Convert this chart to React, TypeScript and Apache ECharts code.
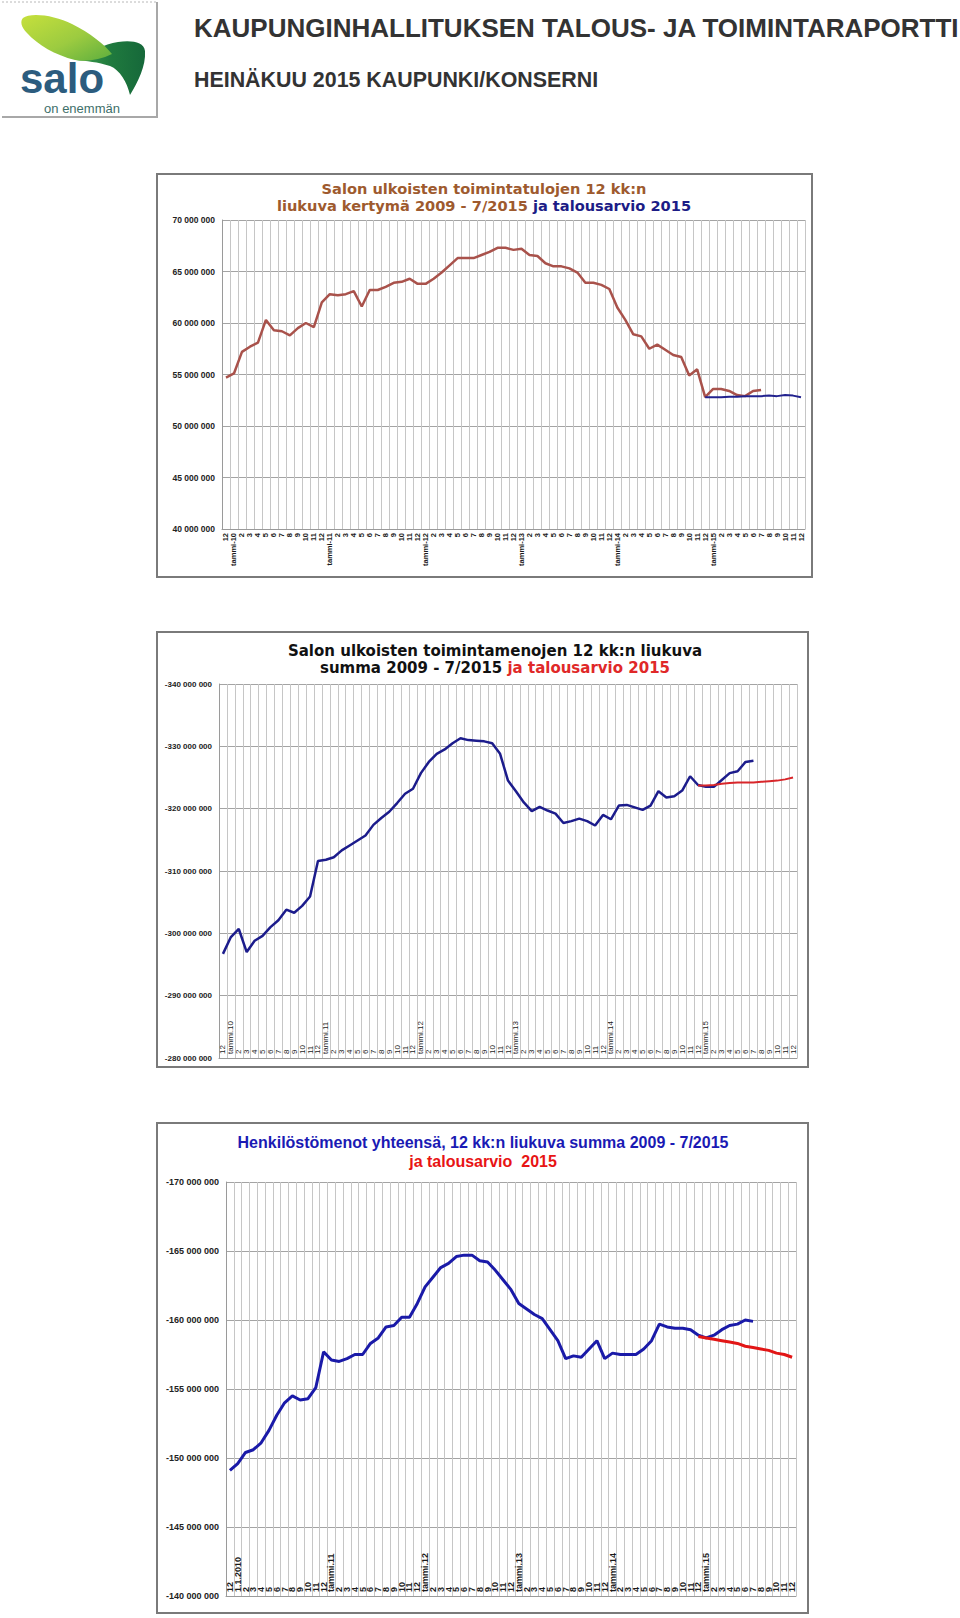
import React, { useEffect, useRef } from 'react';
import * as echarts from 'echarts';

// ---------- categories / tick labels ----------
const firstLabel = '12';
const monthLabels = ['2', '3', '4', '5', '6', '7', '8', '9', '10', '11', '12'];
const yearLabels1 = ['tammi-10', 'tammi-11', 'tammi-12', 'tammi-13', 'tammi-14', 'tammi-15'];
const yearLabels2 = ['tammi.10', 'tammi.11', 'tammi.12', 'tammi.13', 'tammi.14', 'tammi.15'];
const yearLabels3 = ['1.1.2010', 'tammi.11', 'tammi.12', 'tammi.13', 'tammi.14', 'tammi.15'];

// ---------- series values (millions of euros) ----------
// Chart 1: external operating income, 12-month rolling, 12/2009 - 7/2015
const income = [
  54.7, 55.1, 57.2, 57.7, 58.1, 60.3, 59.3, 59.2, 58.8, 59.5, 60.0, 59.6,
  62.0, 62.8, 62.7, 62.8, 63.1, 61.6, 63.2, 63.2, 63.5, 63.9, 64.0, 64.3,
  63.8, 63.8, 64.3, 64.9, 65.6, 66.3, 66.3, 66.3, 66.6, 66.9, 67.3, 67.3,
  67.1, 67.2, 66.6, 66.5, 65.8, 65.5, 65.5, 65.3, 64.9, 63.9, 63.9, 63.7,
  63.3, 61.5, 60.3, 58.9, 58.7, 57.5, 57.9, 57.4, 56.9, 56.7, 54.9, 55.5,
  52.8, 53.6, 53.6, 53.4, 53.0, 52.9, 53.4, 53.5,
];
// budget 12/2014 - 12/2015
const incomeBudget = [52.8, 52.8, 52.8, 52.85, 52.85, 52.9, 52.9, 52.9, 52.95, 52.9, 53.0, 52.95, 52.8];

// Chart 2: external operating expenses
const expenses = [
  -296.7, -299.4, -300.7, -297.0, -298.8, -299.6, -301.0, -302.1, -303.8, -303.3, -304.4, -305.9,
  -311.6, -311.8, -312.2, -313.3, -314.1, -314.9, -315.7, -317.4, -318.5, -319.5, -320.9, -322.4,
  -323.2, -325.7, -327.5, -328.8, -329.5, -330.5, -331.3, -331.0, -330.9, -330.8, -330.5, -328.8,
  -324.5, -322.8, -321.0, -319.6, -320.3, -319.7, -319.2, -317.7, -318.0, -318.4, -318.0, -317.3,
  -319.0, -318.3, -320.5, -320.6, -320.2, -319.8, -320.5, -322.8, -321.8, -322.0, -322.9, -325.2,
  -323.8, -323.5, -323.5, -324.6, -325.7, -326.0, -327.5, -327.7,
];
const expensesBudget = [-323.7, -323.7, -323.8, -324.0, -324.1, -324.2, -324.2, -324.2, -324.3, -324.4, -324.5, -324.7, -325.0];

// Chart 3: personnel expenses
const staff = [
  -149.1, -149.6, -150.4, -150.6, -151.1, -152.0, -153.1, -154.0, -154.5, -154.2, -154.3, -155.1,
  -157.7, -157.1, -157.0, -157.2, -157.5, -157.5, -158.3, -158.7, -159.5, -159.6, -160.2, -160.2,
  -161.2, -162.4, -163.1, -163.8, -164.1, -164.6, -164.7, -164.7, -164.3, -164.2, -163.6, -162.9,
  -162.2, -161.2, -160.8, -160.4, -160.1, -159.3, -158.5, -157.2, -157.4, -157.3, -157.9, -158.5,
  -157.2, -157.6, -157.5, -157.5, -157.5, -157.9, -158.5, -159.7, -159.5, -159.4, -159.4, -159.3,
  -158.9, -158.7, -158.9, -159.3, -159.6, -159.7, -160.0, -159.9,
];
const staffBudget = [-158.8, -158.7, -158.6, -158.5, -158.4, -158.3, -158.1, -158.0, -157.9, -157.8, -157.6, -157.5, -157.3];

const budgetStartIndex = 60; // 12/2014

// ---------- logo shapes ----------
echarts.graphic.registerShape(
  'salo-leaf-light',
  echarts.graphic.extendPath(
    'M 23 18 C 30 12 55 15 72 24 C 90 33 104 44 112 54 C 100 60 86 62 75 60 C 55 55 38 45 27 33 C 21 27 20 21 23 18 Z',
    {}
  )
);
echarts.graphic.registerShape(
  'salo-leaf-dark',
  echarts.graphic.extendPath(
    'M 76 60 C 90 52 104 44 118 42 C 132 40 144 42 145 51 C 146 66 138 82 130 95 C 127 82 120 70 110 66 C 98 62 86 61 76 60 Z',
    {}
  )
);

function buildCategories(yearLabels: string[]) {
  const out: string[] = [firstLabel];
  yearLabels.forEach((y) => {
    out.push(y);
    monthLabels.forEach((m) => out.push(m));
  });
  return out;
}

const toEuro = (arr: number[]) => arr.map((v) => Math.round(v * 1e6));
const padBudget = (arr: number[]) => {
  const out: (number | null)[] = [];
  for (let i = 0; i < budgetStartIndex; i++) out.push(null);
  return out.concat(toEuro(arr));
};

const fmt = (v: number) => String(Math.round(v)).replace(/\B(?=(\d{3})+(?!\d))/g, ' ');

const SANS = '"Liberation Sans", Arial, sans-serif';
const WIDE = '"DejaVu Sans", Verdana, sans-serif';

export default function App() {
  const ref = useRef<HTMLDivElement>(null);

  useEffect(() => {
    if (!ref.current) return;
    const chart = echarts.init(ref.current, undefined, { renderer: 'svg' });

    const cats1 = buildCategories(yearLabels1);
    const cats2 = buildCategories(yearLabels2);
    const cats3 = buildCategories(yearLabels3);

    const xAxisBase = (gridIndex: number, data: string[], inside: boolean, fontSize: number, bold: boolean) => ({
      type: 'category',
      gridIndex,
      data,
      boundaryGap: true,
      axisTick: { show: false },
      axisLine: { show: true, onZero: false, lineStyle: { color: '#9a9a9a', width: 1 } },
      splitLine: { show: true, interval: 0, lineStyle: { color: '#c6c6c6', width: 1 } },
      axisLabel: {
        interval: 0,
        rotate: 90,
        inside,
        margin: 4,
        fontSize,
        fontWeight: bold ? 'bold' : 'normal',
        color: '#1a1a1a',
        fontFamily: SANS,
      },
    });

    const yAxisBase = (gridIndex: number, min: number, max: number, interval: number, inverse: boolean, fontSize: number) => ({
      type: 'value',
      gridIndex,
      min,
      max,
      interval,
      inverse,
      axisTick: { show: false },
      axisLine: { show: true, lineStyle: { color: '#9a9a9a', width: 1 } },
      splitLine: { show: true, lineStyle: { color: '#a4a4a4', width: 1 } },
      axisLabel: {
        margin: 7,
        fontSize,
        fontWeight: 'bold',
        color: '#222',
        fontFamily: SANS,
        formatter: (v: number) => fmt(v),
      },
    });

    const option: any = {
      animation: false,
      backgroundColor: '#ffffff',
      grid: [
        { left: 222, top: 220, width: 583, height: 309 },
        { left: 219, top: 684, width: 578, height: 374 },
        { left: 226, top: 1182, width: 570, height: 414 },
      ],
      xAxis: [
        xAxisBase(0, cats1, false, 7.5, true),
        xAxisBase(1, cats2, true, 8, false),
        xAxisBase(2, cats3, true, 9, true),
      ],
      yAxis: [
        yAxisBase(0, 40000000, 70000000, 5000000, false, 8.5),
        yAxisBase(1, -340000000, -280000000, 10000000, true, 8),
        yAxisBase(2, -170000000, -140000000, 5000000, true, 9),
      ],
      series: [
        {
          type: 'line', xAxisIndex: 0, yAxisIndex: 0, data: toEuro(income),
          showSymbol: false, symbol: 'none', lineStyle: { color: '#A9524B', width: 2.5 },
        },
        {
          type: 'line', xAxisIndex: 0, yAxisIndex: 0, data: padBudget(incomeBudget),
          showSymbol: false, symbol: 'none', lineStyle: { color: '#22228E', width: 2 },
        },
        {
          type: 'line', xAxisIndex: 1, yAxisIndex: 1, data: toEuro(expenses),
          showSymbol: false, symbol: 'none', lineStyle: { color: '#1C1C8C', width: 2.5 },
        },
        {
          type: 'line', xAxisIndex: 1, yAxisIndex: 1, data: padBudget(expensesBudget),
          showSymbol: false, symbol: 'none', lineStyle: { color: '#D8262A', width: 2 },
        },
        {
          type: 'line', xAxisIndex: 2, yAxisIndex: 2, data: toEuro(staff),
          showSymbol: false, symbol: 'none', lineStyle: { color: '#1A1AA8', width: 3 },
        },
        {
          type: 'line', xAxisIndex: 2, yAxisIndex: 2, data: padBudget(staffBudget),
          showSymbol: false, symbol: 'none', lineStyle: { color: '#E21616', width: 3 },
        },
      ],
      graphic: [
        // logo frame
        { type: 'line', shape: { x1: 2, y1: 2, x2: 158, y2: 2 }, style: { stroke: '#b8b8b8', lineWidth: 1, lineDash: [2, 2] } },
        { type: 'line', shape: { x1: 157, y1: 2, x2: 157, y2: 118 }, style: { stroke: '#a8a8a8', lineWidth: 2 } },
        { type: 'line', shape: { x1: 2, y1: 117, x2: 158, y2: 117 }, style: { stroke: '#a8a8a8', lineWidth: 2 } },
        {
          type: 'salo-leaf-dark',
          style: {
            fill: new echarts.graphic.LinearGradient(0, 0, 1, 0, [
              { offset: 0, color: '#3F9E4C' },
              { offset: 0.5, color: '#1F7A3E' },
              { offset: 1, color: '#16683A' },
            ]),
          },
        },
        {
          type: 'salo-leaf-light',
          style: {
            fill: new echarts.graphic.LinearGradient(0, 0, 1, 1, [
              { offset: 0, color: '#C6E03C' },
              { offset: 0.55, color: '#9CCB40' },
              { offset: 1, color: '#5DAE3E' },
            ]),
          },
        },
        {
          type: 'text', x: 20, y: 99,
          style: { text: 'salo', fill: '#2C5C7E', fontSize: 42, fontWeight: 'bold', fontFamily: SANS, align: 'left', verticalAlign: 'bottom', letterSpacing: -0.5 },
        },
        {
          type: 'text', x: 82, y: 108,
          style: { text: 'on enemmän', fill: '#3E6F6A', fontSize: 13, fontFamily: SANS, align: 'center', verticalAlign: 'middle', letterSpacing: 0.8 },
        },
        // page header
        {
          type: 'text', x: 194, y: 28,
          style: { text: 'KAUPUNGINHALLITUKSEN TALOUS- JA TOIMINTARAPORTTI', fill: '#333', fontSize: 26, fontWeight: 'bold', fontFamily: SANS, align: 'left', verticalAlign: 'middle' },
        },
        {
          type: 'text', x: 194, y: 79.5,
          style: { text: 'HEINÄKUU 2015 KAUPUNKI/KONSERNI', fill: '#333', fontSize: 21.4, fontWeight: 'bold', fontFamily: SANS, align: 'left', verticalAlign: 'middle' },
        },
        // chart frames
        { type: 'rect', shape: { x: 157, y: 174, width: 655, height: 403 }, style: { fill: 'none', stroke: '#7a7a7a', lineWidth: 2 } },
        { type: 'rect', shape: { x: 157, y: 632, width: 651, height: 435 }, style: { fill: 'none', stroke: '#7a7a7a', lineWidth: 2 } },
        { type: 'rect', shape: { x: 157, y: 1123, width: 651, height: 490 }, style: { fill: 'none', stroke: '#7a7a7a', lineWidth: 2 } },
        // chart titles
        {
          type: 'text', x: 484, y: 197,
          style: {
            text: '{a|Salon ulkoisten toimintatulojen 12 kk:n}\n{a|liukuva kertymä 2009 - 7/2015 }{b|ja talousarvio 2015}',
            align: 'center', verticalAlign: 'middle',
            rich: {
              a: { fill: '#9E5A2E', fontSize: 14.6, fontWeight: 'bold', fontFamily: WIDE, lineHeight: 16.5 },
              b: { fill: '#1C1C86', fontSize: 14.6, fontWeight: 'bold', fontFamily: WIDE, lineHeight: 16.5 },
            },
          },
        },
        {
          type: 'text', x: 495, y: 659.5,
          style: {
            text: '{a|Salon ulkoisten toimintamenojen 12 kk:n liukuva}\n{a|summa 2009 - 7/2015 }{b|ja talousarvio 2015}',
            align: 'center', verticalAlign: 'middle',
            rich: {
              a: { fill: '#111', fontSize: 15, fontWeight: 'bold', fontFamily: WIDE, lineHeight: 17.5 },
              b: { fill: '#E02828', fontSize: 15, fontWeight: 'bold', fontFamily: WIDE, lineHeight: 17.5 },
            },
          },
        },
        {
          type: 'text', x: 483, y: 1152,
          style: {
            text: '{a|Henkilöstömenot yhteensä, 12 kk:n liukuva summa 2009 - 7/2015}\n{b|ja talousarvio  2015}',
            align: 'center', verticalAlign: 'middle',
            rich: {
              a: { fill: '#1A1AB4', fontSize: 16, fontWeight: 'bold', fontFamily: SANS, lineHeight: 19 },
              b: { fill: '#E81414', fontSize: 16, fontWeight: 'bold', fontFamily: SANS, lineHeight: 19 },
            },
          },
        },
      ],
    };

    chart.setOption(option);
    return () => chart.dispose();
  }, []);

  return (
    <div
      ref={ref}
      style={{ position: 'absolute', left: 0, top: 0, width: 960, height: 1618, background: '#fff' }}
    />
  );
}
